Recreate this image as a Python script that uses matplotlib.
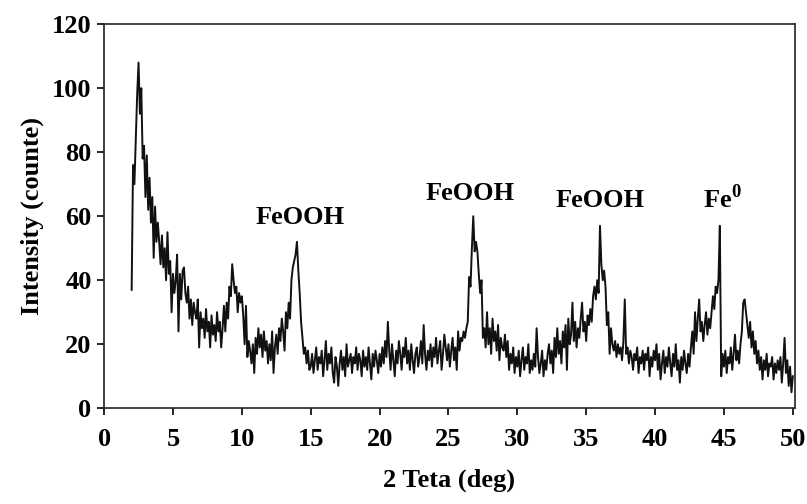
import numpy as np
import matplotlib.pyplot as plt

plt.rcParams['font.family'] = ['Liberation Serif', 'DejaVu Serif']
plt.rcParams['font.weight'] = 'bold'
plt.rcParams['mathtext.fontset'] = 'custom'
plt.rcParams['mathtext.rm'] = 'Liberation Serif:bold'
plt.rcParams['mathtext.bf'] = 'Liberation Serif:bold'

# XRD pattern, 0.1 deg steps from 2.0 to 50.0 deg
start_angle, step_angle = 2.0, 0.1
counts_rows = [
    [37, 76, 70, 84, 98, 108, 92, 100, 78, 82],   # 2
    [66, 79, 62, 72, 58, 66, 47, 63, 52, 58],     # 3
    [52, 45, 54, 44, 50, 40, 55, 42, 46, 30],     # 4
    [42, 36, 40, 48, 24, 42, 34, 43, 44, 36],     # 5
    [33, 38, 28, 34, 26, 33, 30, 28, 34, 19],     # 6
    [30, 25, 28, 22, 31, 24, 27, 19, 29, 23],     # 7
    [26, 21, 30, 24, 27, 19, 25, 32, 24, 33],     # 8
    [28, 38, 35, 45, 40, 36, 38, 30, 36, 33],     # 9
    [35, 29, 20, 32, 16, 21, 18, 14, 20, 11],     # 10
    [22, 17, 25, 19, 23, 16, 24, 18, 21, 14],     # 11
    [20, 15, 24, 11, 19, 23, 17, 25, 21, 28],     # 12
    [24, 18, 30, 25, 33, 28, 40, 44, 46, 48],     # 13
    [52, 43, 36, 27, 22, 17, 19, 14, 18, 12],     # 14
    [13, 17, 11, 15, 19, 12, 16, 14, 18, 10],     # 15
    [15, 21, 12, 17, 14, 19, 11, 8, 16, 13],      # 16
    [7, 14, 18, 12, 16, 10, 20, 13, 15, 17],      # 17
    [11, 16, 14, 19, 12, 17, 15, 10, 18, 13],     # 18
    [16, 12, 19, 14, 9, 17, 13, 18, 15, 11],      # 19
    [17, 13, 19, 14, 21, 16, 27, 18, 12, 20],     # 20
    [15, 10, 18, 14, 21, 17, 12, 19, 16, 22],     # 21
    [14, 18, 12, 20, 15, 11, 17, 19, 13, 16],     # 22
    [21, 14, 26, 17, 12, 18, 15, 20, 13, 19],     # 23
    [16, 22, 14, 18, 21, 12, 17, 23, 19, 15],     # 24
    [20, 13, 18, 22, 15, 19, 12, 24, 18, 22],     # 25
    [21, 24, 22, 25, 27, 41, 38, 50, 60, 49],     # 26
    [52, 49, 42, 36, 40, 22, 25, 19, 30, 20],     # 27
    [25, 17, 28, 21, 24, 18, 26, 15, 22, 19],     # 28
    [18, 23, 16, 21, 12, 17, 14, 19, 11, 16],     # 29
    [13, 18, 10, 15, 19, 12, 16, 14, 20, 11],     # 30
    [15, 12, 17, 13, 25, 16, 11, 14, 18, 10],     # 31
    [15, 12, 17, 20, 14, 18, 11, 22, 16, 25],     # 32
    [17, 21, 14, 24, 19, 26, 12, 28, 20, 23],     # 33
    [33, 21, 27, 19, 25, 22, 28, 33, 24, 27],     # 34
    [21, 29, 26, 31, 27, 35, 38, 34, 40, 36],     # 35
    [57, 45, 40, 43, 38, 26, 30, 17, 25, 20],     # 36
    [18, 21, 16, 20, 17, 19, 15, 21, 34, 17],     # 37
    [19, 14, 18, 16, 12, 17, 15, 19, 11, 16],     # 38
    [14, 18, 12, 17, 15, 19, 10, 16, 13, 18],     # 39
    [15, 20, 12, 17, 9, 14, 18, 11, 16, 13],      # 40
    [19, 14, 10, 17, 13, 20, 12, 15, 8, 16],      # 41
    [12, 18, 14, 11, 17, 13, 19, 24, 17, 30],     # 42
    [21, 28, 34, 24, 27, 21, 26, 30, 23, 28],     # 43
    [25, 30, 35, 31, 38, 36, 40, 57, 10, 17],     # 44
    [13, 18, 11, 16, 14, 19, 12, 17, 23, 15],     # 45
    [18, 14, 20, 24, 33, 34, 30, 26, 22, 27],     # 46
    [19, 24, 17, 21, 14, 18, 12, 16, 9, 15],      # 47
    [12, 17, 10, 14, 13, 16, 9, 14, 11, 15],      # 48
    [12, 16, 8, 14, 22, 11, 15, 7, 13, 5],        # 49
    [10],                                         # 50
]
counts = np.concatenate([np.array(r, dtype=float) for r in counts_rows])
two_theta = start_angle + step_angle * np.arange(len(counts))

# Phase labels and where they sit
peak_labels = ['FeOOH', 'FeOOH', 'FeOOH', r'Fe$^{\mathbf{0}}$']
label_x = [14.2, 26.6, 36.0, 44.9]
label_y = [59.5, 67.0, 65.0, 65.5]

x_ticks = np.arange(0, 51, 5)
y_ticks = np.arange(0, 121, 20)

fig = plt.figure(figsize=(8.07, 5.04), dpi=100)
ax = fig.add_axes([0.129, 0.19, 0.856, 0.762])

ax.plot(two_theta, counts, color='#111111', linewidth=1.4)

for txt, lx, ly in zip(peak_labels, label_x, label_y):
    ax.text(lx, ly, txt, ha='center', va='center', fontsize=19, fontweight='bold')

ax.set_xlim(0, 50.15)
ax.set_ylim(0, 120)
ax.set_xticks(x_ticks)
ax.set_yticks(y_ticks)
ax.tick_params(direction='out', length=5, width=1.2, labelsize=19)
ax.tick_params(axis='x', pad=9)
ax.tick_params(axis='y', pad=4)
for s in ax.spines.values():
    s.set_linewidth(1.2)
    s.set_color('#222222')

ax.set_xlabel('2 Teta (deg)', fontsize=19, fontweight='bold', labelpad=13)
ax.set_ylabel('Intensity (counte)', fontsize=19, fontweight='bold', labelpad=6)

plt.savefig('out.png', dpi=100)
